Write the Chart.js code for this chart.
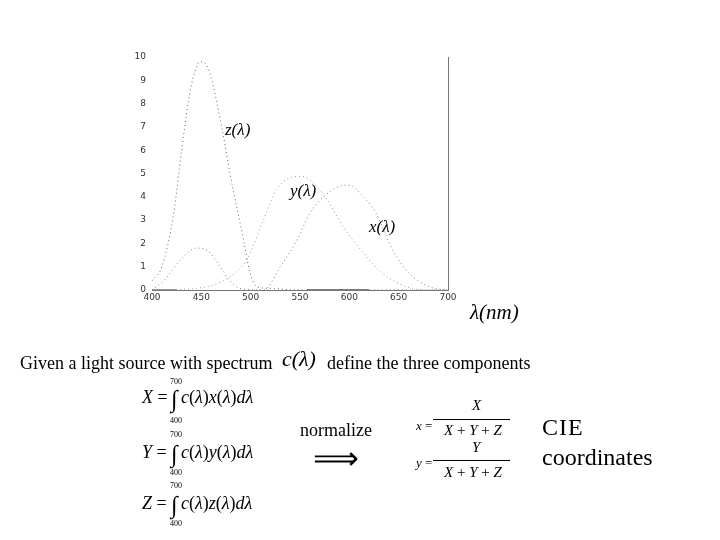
<!DOCTYPE html>
<html lang="en">
<head>
<meta charset="UTF-8">
<script src="https://cdn.jsdelivr.net/npm/chart.js"></script>
<title>CIE</title>
<style>
  body { margin: 0; background: #fff; }
  #wrap { position: relative; width: 720px; height: 540px; overflow: hidden; }
  canvas { position: absolute; left: 0; top: 0; }
  .t { position: absolute; font-family: "Liberation Serif", "Times New Roman", serif; color: #000; line-height: 1; white-space: nowrap; }
  .i { font-style: italic; }
  .n { font-style: normal; }
  .lim { font-size: 8px; }
  .int { font-size: 24px; }
  .eq { font-size: 18px; }
  .bar { position: absolute; height: 1px; background: #000; }
</style>
</head>
<body>
<div id="wrap">
  <canvas id="myChart" width="720" height="540"></canvas>

  <div class="t i" style="left:225px;top:121px;font-size:17px;">z(λ)</div>
  <div class="t i" style="left:290px;top:182px;font-size:17px;">y(λ)</div>
  <div class="t i" style="left:369px;top:218px;font-size:17px;">x(λ)</div>
  <div class="t i" style="left:470px;top:302px;font-size:21px;">λ(nm)</div>

  <div class="t" style="left:20px;top:354px;font-size:18px;">Given a light source with spectrum</div>
  <div class="t i" style="left:282px;top:348px;font-size:22px;">c(λ)</div>
  <div class="t" style="left:327px;top:354px;font-size:18px;">define the three components</div>

  <div class="t lim" style="left:170px;top:378px;">700</div>
  <div class="t eq i" style="left:142px;top:388px;">X <span class="n">=</span></div>
  <div class="t int" style="left:171px;top:387px;">∫</div>
  <div class="t eq" style="left:181px;top:388px;"><span class="i">c</span>(<span class="i">λ</span>)<span class="i">x</span>(<span class="i">λ</span>)<span class="i">dλ</span></div>
  <div class="t lim" style="left:170px;top:417px;">400</div>

  <div class="t lim" style="left:170px;top:431px;">700</div>
  <div class="t eq i" style="left:142px;top:443px;">Y <span class="n">=</span></div>
  <div class="t int" style="left:171px;top:442px;">∫</div>
  <div class="t eq" style="left:181px;top:443px;"><span class="i">c</span>(<span class="i">λ</span>)<span class="i">y</span>(<span class="i">λ</span>)<span class="i">dλ</span></div>
  <div class="t lim" style="left:170px;top:469px;">400</div>

  <div class="t lim" style="left:170px;top:482px;">700</div>
  <div class="t eq i" style="left:142px;top:494px;">Z <span class="n">=</span></div>
  <div class="t int" style="left:171px;top:493px;">∫</div>
  <div class="t eq" style="left:181px;top:494px;"><span class="i">c</span>(<span class="i">λ</span>)<span class="i">z</span>(<span class="i">λ</span>)<span class="i">dλ</span></div>
  <div class="t lim" style="left:170px;top:520px;">400</div>

  <div class="t" style="left:300px;top:421px;font-size:18px;">normalize</div>
  <div class="t" style="left:313px;top:442px;font-size:32px;">⟹</div>

  <div class="t i" style="left:416px;top:419px;font-size:13px;">x <span class="n">=</span></div>
  <div class="t i" style="left:472px;top:398px;font-size:15px;">X</div>
  <div class="bar" style="left:433px;top:419px;width:77px;"></div>
  <div class="t i" style="left:444px;top:423px;font-size:15px;">X <span class="n">+</span> Y <span class="n">+</span> Z</div>

  <div class="t i" style="left:416px;top:456px;font-size:13px;">y <span class="n">=</span></div>
  <div class="t i" style="left:472px;top:440px;font-size:15px;">Y</div>
  <div class="bar" style="left:433px;top:460px;width:77px;"></div>
  <div class="t i" style="left:444px;top:465px;font-size:15px;">X <span class="n">+</span> Y <span class="n">+</span> Z</div>

  <div class="t" style="left:542px;top:415px;font-size:24px;letter-spacing:1px;">CIE</div>
  <div class="t" style="left:542px;top:445px;font-size:24px;">coordinates</div>
</div>

<script>
  // wavelength / value pairs
  const zLambda = [400, 410, 422, 430, 439, 449, 457, 472, 479, 493, 499, 506, 520, 547, 700];
  const zValues = [0.4, 1.0, 3.3, 6.0, 8.6, 9.8, 9.5, 6.7, 5.0, 2.1, 0.8, 0.15, 0.07, 0, 0];

  const xLambda = [400, 412, 429, 445, 456, 469, 479, 489, 513, 530, 547, 560, 574, 590, 600, 614, 627, 644, 661, 681, 698];
  const xValues = [0, 0.4, 1.3, 1.8, 1.7, 1.0, 0.4, 0.07, 0, 1.0, 2.15, 3.3, 4.0, 4.45, 4.5, 4.0, 3.3, 1.7, 0.7, 0.14, 0];

  const yLambda = [400, 445, 479, 496, 513, 526, 547, 553, 567, 577, 594, 614, 634, 658, 681, 700];
  const yValues = [0, 0.07, 0.57, 1.3, 3.0, 4.3, 4.87, 4.87, 4.44, 3.9, 2.7, 1.6, 0.7, 0.14, 0, 0];

  const greenBand = [400, 425];
  const blueBand = [557, 620];

  const xTicks = [400, 450, 500, 550, 600, 650, 700];
  const yTicks = [0, 1, 2, 3, 4, 5, 6, 7, 8, 9, 10];

  const pts = (xs, ys) => xs.map((v, i) => ({ x: v, y: ys[i] }));

  const ctx = document.getElementById('myChart').getContext('2d');

  new Chart(ctx, {
    type: 'line',
    data: {
      datasets: [
        {
          label: 'z',
          data: pts(zLambda, zValues),
          borderColor: '#666666',
          borderWidth: 1,
          borderDash: [1, 3],
          pointRadius: 0,
          cubicInterpolationMode: 'monotone'
        },
        {
          label: 'x',
          data: pts(xLambda, xValues),
          borderColor: '#927580',
          borderWidth: 1,
          borderDash: [1, 3],
          pointRadius: 0,
          cubicInterpolationMode: 'monotone'
        },
        {
          label: 'y',
          data: pts(yLambda, yValues),
          borderColor: '#78b478',
          borderWidth: 1,
          borderDash: [1, 3],
          pointRadius: 0,
          cubicInterpolationMode: 'monotone'
        },
        {
          label: 'green',
          data: greenBand.map(v => ({ x: v, y: 0 })),
          borderColor: '#66bb66',
          borderWidth: 2,
          pointRadius: 0
        },
        {
          label: 'blue',
          data: blueBand.map(v => ({ x: v, y: 0 })),
          borderColor: '#7777bb',
          borderWidth: 2,
          pointRadius: 0
        }
      ]
    },
    options: {
      responsive: false,
      animation: false,
      layout: { padding: { top: 57, right: 272, left: 0, bottom: 0 } },
      plugins: { legend: { display: false }, tooltip: { enabled: false } },
      scales: {
        x: {
          type: 'linear',
          min: 400,
          max: 700,
          afterBuildTicks: s => { s.ticks = xTicks.map(v => ({ value: v })); },
          afterFit: s => { s.height = 250; },
          grid: { display: false, drawTicks: false },
          border: { color: '#777', width: 1 },
          ticks: { color: '#333', padding: 2, font: { family: 'DejaVu Sans', size: 9 } }
        },
        y: {
          min: 0,
          max: 10,
          afterBuildTicks: s => { s.ticks = yTicks.map(v => ({ value: v })); },
          afterFit: s => { s.width = 152; },
          grid: { display: false, drawTicks: false },
          border: { display: false },
          ticks: { color: '#333', padding: 6, font: { family: 'DejaVu Sans', size: 9 } }
        },
        yRight: {
          position: 'right',
          min: 0,
          max: 10,
          afterFit: s => { s.width = 0; },
          grid: { display: false, drawTicks: false },
          border: { color: '#777', width: 1 },
          ticks: { display: false }
        }
      }
    }
  });
</script>
</body>
</html>
